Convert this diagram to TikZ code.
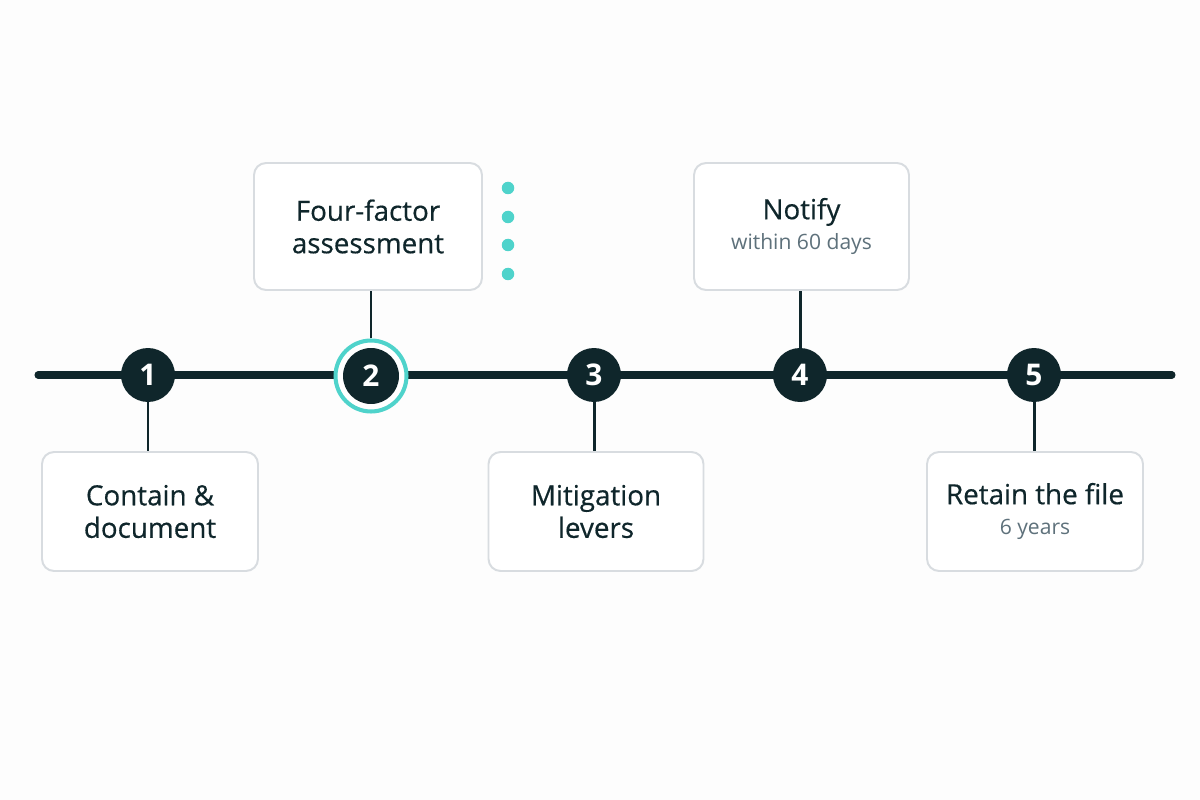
\documentclass[tikz,border=0pt]{standalone}
\usepackage{fontspec}
\setmainfont{Open Sans}
\newfontfamily\cardfont{Open Sans}[FakeBold=0.45]
\newfontfamily\numfont{Open Sans}
\definecolor{ink}{HTML}{0F262B}
\definecolor{sub}{HTML}{5E717B}
\definecolor{frame}{HTML}{D8DCE0}
\definecolor{teal}{HTML}{4FD3CB}
\definecolor{bg}{HTML}{FDFDFD}
\begin{document}
\begin{tikzpicture}[x=0.02cm,y=-0.02cm,
  card/.style={draw=frame,line width=1.1pt,rounded corners=0.24cm,fill=white,align=center,text=ink,font=\cardfont\fontsize{15.8}{18.5}\selectfont,inner sep=0pt},
  num/.style={circle,fill=ink,minimum size=1.08cm,inner sep=0pt,text=white,font=\numfont\bfseries\fontsize{17}{17}\selectfont},
  conn/.style={draw=ink,line width=1.7pt},
  dot/.style={circle,fill=teal,minimum size=0.25cm,inner sep=0pt}]
\fill[bg] (0,0) rectangle (1200,800);
\useasboundingbox (0,0) rectangle (1200,800);
% timeline
\coordinate (L) at (38,375);
\coordinate (R) at (1172,375);
\draw[ink,line width=4pt,line cap=round] (L) -- (R);
% cards
\node[card,minimum width=4.32cm,minimum height=2.38cm] (b1) at (150,511.5) {Contain \&\\document};
\node[card,minimum width=4.56cm,minimum height=2.54cm] (b2) at (368,226.5) {Four-factor\\assessment};
\node[card,minimum width=4.30cm,minimum height=2.38cm] (b3) at (596,511.5) {Mitigation\\levers};
\node[card,minimum width=4.30cm,minimum height=2.54cm] (b4) at (801.5,226.5) {Notify\\[-1pt]{\numfont\fontsize{12}{14}\selectfont\color{sub}within 60 days}};
\node[card,minimum width=4.32cm,minimum height=2.38cm] (b5) at (1035,511.5) {Retain the file\\[-1pt]{\numfont\fontsize{12}{14}\selectfont\color{sub}6 years}};
% highlight ring for step 2
\node[circle,draw=teal,line width=2.3pt,fill=white,minimum size=1.42cm,inner sep=0pt] (ring) at (371,376) {};
% step circles
\node[num] (n1) at (148,375) {1};
\node[num,minimum size=1.12cm] (n2) at (371,376) {2};
\node[num] (n3) at (594,375) {3};
\node[num] (n4) at (800,375) {4};
\node[num] (n5) at (1034,375) {5};
% connectors
\draw[conn] (n1.south) -- (b1.north -| n1.south);
\draw[conn] (ring.north) -- (b2.south -| ring.north);
\draw[conn] (n3.south) -- (b3.north -| n3.south);
\draw[conn] (n4.north) -- (b4.south -| n4.north);
\draw[conn] (n5.south) -- (b5.north -| n5.south);
% dots
\node[dot] (d1) at (508,188) {};
\node[dot] (d2) at (508,217) {};
\node[dot] (d3) at (508,245) {};
\node[dot] (d4) at (508,274) {};
\end{tikzpicture}
\end{document}
